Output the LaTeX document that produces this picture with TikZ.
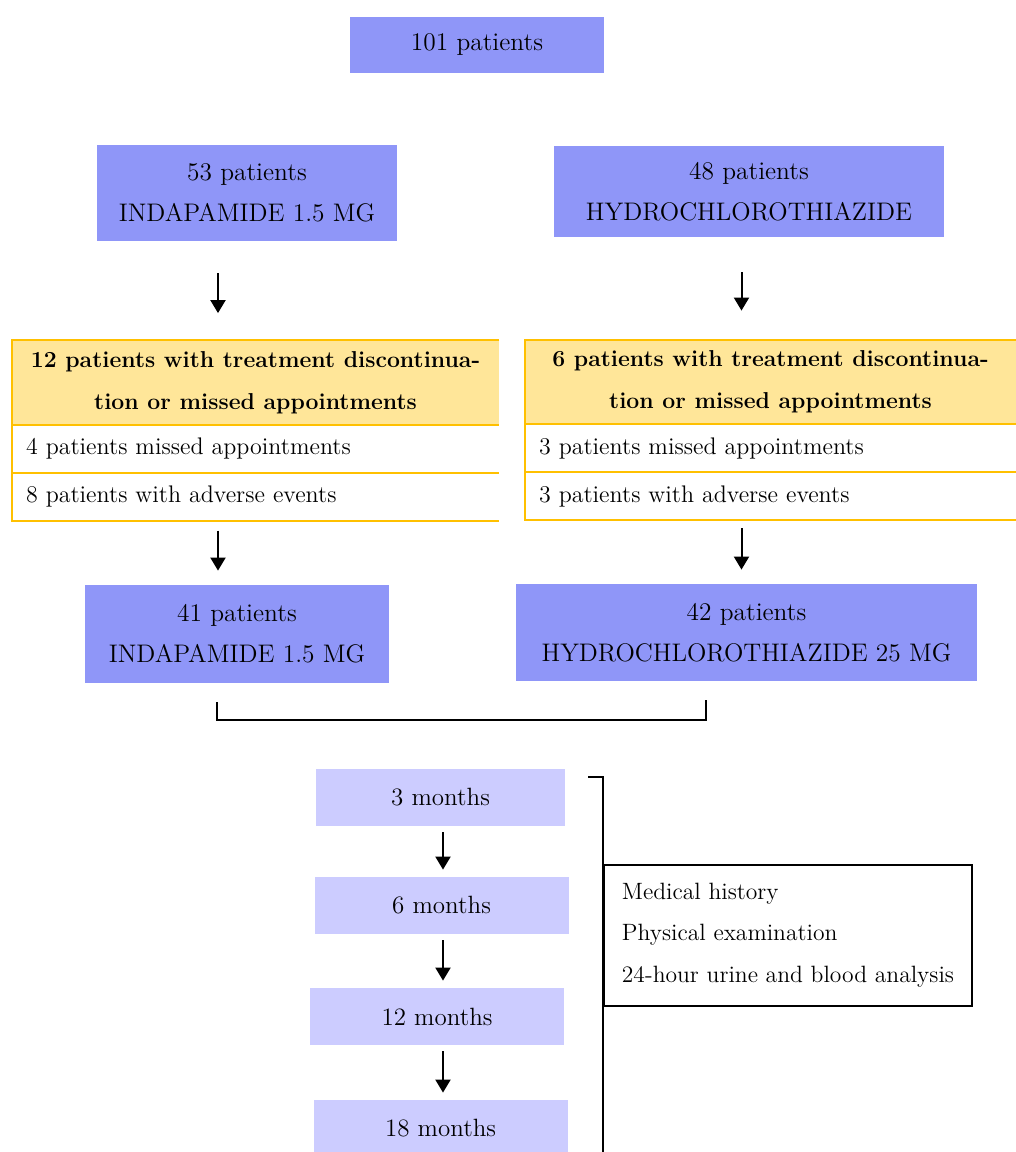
\documentclass[tikz,border=0pt]{standalone}
\usepackage{xcolor}
\usepackage{tikz}
\usetikzlibrary{positioning}
\usetikzlibrary{arrows.meta}
\definecolor{armblue}{RGB}{143,150,248}
\definecolor{visitblue}{RGB}{204,204,255}
\definecolor{dropfill}{RGB}{255,230,153}
\definecolor{dropedge}{RGB}{255,192,0}
\tikzstyle{armbox} = [fill=armblue, align=center, inner sep=0pt,
font=\fontsize{12.7}{20.5}\selectfont]
\tikzstyle{visitbox} = [fill=visitblue, inner sep=0pt, minimum width=127pt,
minimum height=28.5pt, font=\fontsize{12.5}{14}\selectfont]
\tikzstyle{drophead} = [fill=dropfill, align=center, inner sep=0pt,
minimum height=42pt, font=\fontsize{11.5}{21}\selectfont\bfseries]
\tikzstyle{droprow} = [align=left, inner xsep=7pt, inner ysep=0pt,
minimum height=23.5pt, font=\fontsize{12}{14}\selectfont]
\tikzstyle{dropline} = [draw=dropedge, line width=1pt]
\tikzstyle{exambox} = [draw=black, line width=1pt, fill=white, align=left,
inner sep=0pt, minimum width=184pt, minimum height=70.5pt,
font=\fontsize{11.8}{20.75}\selectfont]
\tikzstyle{flow} = [-{Triangle[width=7.5pt,length=6.5pt]}, line width=1pt]
\tikzstyle{bracket} = [line width=1.2pt]
\begin{document}
\begin{tikzpicture}[x=0.5pt, y=-0.5pt]
        \useasboundingbox (0,0) rectangle (1016,1152);
        \node[armbox, minimum width=127pt, minimum height=28pt] (total) at (477,45) {101 patients};
        \node[armbox, minimum width=150pt, minimum height=48pt] (inda) at (247,193) {53 patients\\INDAPAMIDE 1.5 MG};
        \node[armbox, minimum width=195pt, minimum height=45.5pt] (hctz) at (749,191.5) {48 patients\\HYDROCHLOROTHIAZIDE};

        \node[drophead, minimum width=243.5pt] (hdrL) at (255.5,382.5) {12 patients with treatment discontinua-\\tion or missed appointments};
        \node[droprow, text width=229.5pt, below=0pt of hdrL] (rowLa) {4 patients missed appointments};
        \node[droprow, text width=229.5pt, below=0pt of rowLa] (rowLb) {8 patients with adverse events};
        \node[drophead, minimum width=245.5pt] (hdrR) at (770.5,382) {6 patients with treatment discontinua-\\tion or missed appointments};
        \node[droprow, text width=231.5pt, below=0pt of hdrR] (rowRa) {3 patients missed appointments};
        \node[droprow, text width=231.5pt, below=0pt of rowRa] (rowRb) {3 patients with adverse events};
        \foreach \t/\a/\b in {L/La/Lb, R/Ra/Rb} {
            \draw[dropline] (hdr\t.north east) -- (hdr\t.north west) -- (row\b.south west) -- (row\b.south east);
            \draw[dropline] (hdr\t.south west) -- (hdr\t.south east);
            \draw[dropline] (row\a.south west) -- (row\a.south east);
        }

        \node[armbox, minimum width=152pt, minimum height=49pt] (inda2) at (237,634) {41 patients\\INDAPAMIDE 1.5 MG};
        \node[armbox, minimum width=230.5pt, minimum height=48.5pt] (hctz2) at (746.5,632.5) {42 patients\\HYDROCHLOROTHIAZIDE 25 MG};

        \node[visitbox, minimum width=124.5pt] (m3) at (440.5,797.5) {3 months};
        \node[visitbox] (m6) at (441.5,905.5) {6 months};
        \node[visitbox] (m12) at (437,1016.5) {12 months};
        \node[visitbox] (m18) at (440.5,1128.5) {18 months};
        \node[exambox] (exam) at (788,935) {Medical history\\Physical examination\\24-hour urine and blood analysis};

        \coordinate (colL) at (218,0);
        \coordinate (colR) at (741.5,0);
        \coordinate (colM) at (443,0);
        \draw[flow, shorten <=16pt, shorten >=13.5pt] (inda.south -| colL) -- (hdrL.north -| colL);
        \draw[flow, shorten <=17.5pt, shorten >=14.5pt] (hctz.south -| colR) -- (hdrR.north -| colR);
        \draw[flow, shorten <=5pt, shorten >=7pt] (rowLb.south -| colL) -- (inda2.north -| colL);
        \draw[flow, shorten <=4pt, shorten >=7pt] (rowRb.south -| colR) -- (hctz2.north -| colR);
        \foreach \u/\v in {m3/m6, m6/m12, m12/m18}
            \draw[flow, shorten <=3pt, shorten >=3.5pt] (\u.south -| colM) -- (\v.north -| colM);

        \draw[bracket] (217,702) -- (217,720) -- (706,720) -- (706,700);
        \draw[bracket] (588,777) -- (603,777) -- (603,1160);
    \end{tikzpicture}
\end{document}
